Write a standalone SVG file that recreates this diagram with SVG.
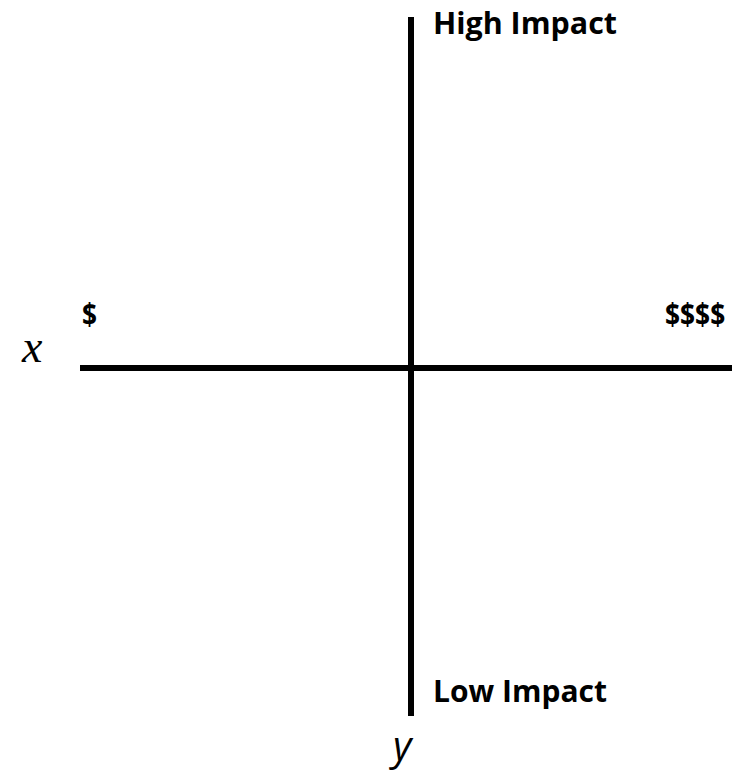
<svg xmlns="http://www.w3.org/2000/svg" width="732" height="773" viewBox="0 0 732 773">
<style>
.lbl{font-family:"Open Sans","Liberation Sans",sans-serif;font-weight:bold;font-size:31px;fill:#000}
.ax{stroke:#000;stroke-width:6;fill:none}
</style>
<rect width="732" height="773" fill="#fff"/>
<g id="connectors">
<line class="ax" x1="411" y1="17" x2="411" y2="716"/>
<line class="ax" x1="80" y1="368" x2="732" y2="368"/>
</g>
<g id="high"><text class="lbl" x="433" y="34" textLength="184" lengthAdjust="spacingAndGlyphs">High Impact</text></g>
<g id="low"><text class="lbl" x="433" y="702" textLength="174" lengthAdjust="spacingAndGlyphs">Low Impact</text></g>
<g id="min"><text class="lbl" x="82" y="325" textLength="15" lengthAdjust="spacingAndGlyphs">$</text></g>
<g id="max" transform="translate(665,325) scale(0.85,1)"><text class="lbl" x="0" y="0">$$$$</text></g>
<g id="xlabel"><text x="22" y="362" font-family="'Liberation Serif',serif" font-style="italic" font-size="46" fill="#000">x</text></g>
<g id="ylabel"><text x="393" y="760" font-family="'Open Sans','Liberation Sans',sans-serif" font-style="italic" font-size="40" fill="#000">y</text></g>
</svg>
